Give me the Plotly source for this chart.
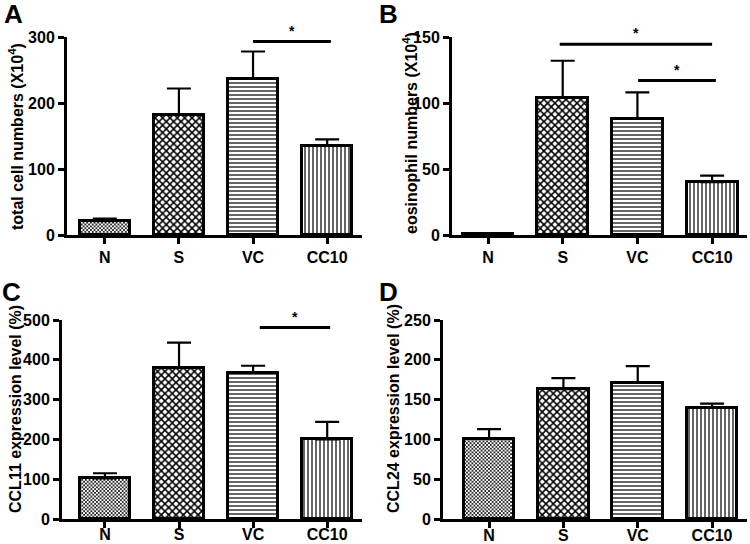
import plotly.graph_objects as go

# ---------------- data ----------------
categories = ["N", "S", "VC", "CC10"]

a_mean = [21, 182, 237, 135]
a_sem = [4, 40, 41, 10]

b_mean = [1, 104, 88, 40]
b_sem = [0, 28, 20, 5]

c_mean = [102, 380, 368, 200]
c_sem = [13, 63, 17, 44]

d_mean = [101, 163, 171, 140]
d_sem = [12, 14, 21, 5]

a_ticks = [0, 100, 200, 300]
b_ticks = [0, 50, 100, 150]
c_ticks = [0, 100, 200, 300, 400, 500]
d_ticks = [0, 50, 100, 150, 200, 250]

# significance brackets: (x start, x end, y level) in data units
a_sig = [(2.0, 3.05, 293)]
b_sig = [(0.96, 3.0, 144.5), (2.01, 3.05, 117)]
c_sig = [(2.09, 3.04, 481)]
d_sig = []

panel_letters = ["A", "B", "C", "D"]
y_titles = ["total cell numbers (X10<sup>4</sup>)",
            "eosinophil numbers (X10<sup>4</sup>)",
            "CCL11 expression level (%)",
            "CCL24 expression level (%)"]

# ---------------- layout geometry (pixels) ----------------
W, H = 750, 544
FONT = "Liberation Sans, Arial, sans-serif"

def px_x(p):
    return p / W

def px_y(p):
    return 1 - p / H

# (left px, right px, top px, bottom px, x range left, x range right, label standoff)
panels = [
    (67, 362, 37, 235, -0.51, 3.47, 0),
    (452, 747, 37, 235, -0.482, 3.467, 0),
    (62, 362, 320, 519, -0.58, 3.47, -7),
    (443, 747, 320, 519, -0.62, 3.47, -6),
]
means = [a_mean, b_mean, c_mean, d_mean]
sems = [a_sem, b_sem, c_sem, d_sem]
ticks = [a_ticks, b_ticks, c_ticks, d_ticks]
sigs = [a_sig, b_sig, c_sig, d_sig]
letter_pos = [(2, 14), (377, 14), (0, 292), (377, 292)]
title_pos = [(16, 137), (410, 133), (15, 409), (393, 409)]

pattern_shapes = ["x", "x", "-", "|"]
pattern_sizes = [2.6, 5.2, 4, 4]
pattern_solid = [0.5, 0.5, 0.3, 0.3]

fig = go.Figure()
layout = dict(
    width=W, height=H,
    margin=dict(l=0, r=0, t=0, b=0, pad=0),
    autosize=False,
    paper_bgcolor="white", plot_bgcolor="white",
    showlegend=False,
    font=dict(family=FONT, color="black", size=16, weight="bold"),
    shapes=[], annotations=[],
    bargap=0,
)

for i in range(4):
    left, right, top, bottom, xr0, xr1, stand = panels[i]
    sfx = "" if i == 0 else str(i + 1)
    xa, ya = "x" + sfx, "y" + sfx
    fig.add_trace(go.Bar(
        x=list(range(len(categories))),
        y=means[i],
        width=0.68,
        xaxis=xa, yaxis=ya,
        marker=dict(
            color="white",
            line=dict(color="black", width=3),
            pattern=dict(shape=pattern_shapes, size=pattern_sizes,
                         solidity=pattern_solid, fgcolor="black",
                         bgcolor="white", fillmode="replace"),
        ),
        error_y=dict(type="data", symmetric=False, array=sems[i],
                     arrayminus=[0] * len(categories),
                     color="black", thickness=2.2, width=12),
        hoverinfo="skip",
    ))
    layout["xaxis" + sfx] = dict(
        domain=[px_x(left), px_x(right)], anchor=ya,
        range=[xr0, xr1], automargin=False,
        showline=True, linecolor="black", linewidth=3,
        ticks="outside", ticklen=6, tickwidth=3, tickcolor="black",
        tickvals=list(range(len(categories))), ticktext=categories,
        tickfont=dict(family=FONT, size=16, color="black", weight="bold"),
        ticklabelstandoff=stand,
        showgrid=False, zeroline=False, fixedrange=True,
    )
    layout["yaxis" + sfx] = dict(
        domain=[px_y(bottom), px_y(top)], anchor=xa,
        range=[0, ticks[i][-1]], automargin=False,
        tickvals=ticks[i],
        showline=True, linecolor="black", linewidth=3,
        ticks="outside", ticklen=6, tickwidth=3, tickcolor="black",
        tickfont=dict(family=FONT, size=16, color="black", weight="bold"),
        showgrid=False, zeroline=False, fixedrange=True,
    )
    for (x0, x1, yv) in sigs[i]:
        layout["shapes"].append(dict(
            type="line", xref=xa, yref=ya, x0=x0, x1=x1, y0=yv, y1=yv,
            line=dict(color="black", width=3)))
        layout["annotations"].append(dict(
            xref=xa, yref=ya, x=(x0 + x1) / 2, y=yv, text="*",
            showarrow=False, yanchor="bottom", xanchor="center", yshift=1,
            font=dict(family=FONT, size=14, color="black", weight="bold")))
    lx, ly = letter_pos[i]
    layout["annotations"].append(dict(
        xref="paper", yref="paper", x=px_x(lx), y=px_y(ly),
        text=panel_letters[i], showarrow=False,
        xanchor="left", yanchor="middle",
        font=dict(family=FONT, size=26, color="black", weight="bold")))
    tx, ty = title_pos[i]
    layout["annotations"].append(dict(
        xref="paper", yref="paper", x=px_x(tx), y=px_y(ty),
        text=y_titles[i], showarrow=False, textangle=-90,
        xanchor="center", yanchor="middle",
        font=dict(family=FONT, size=16, color="black", weight="bold")))

fig.update_layout(**layout)
fig.write_html(
    "out.html",
    config={"displayModeBar": False},
    post_script="document.body.style.margin='0';document.body.style.overflow='hidden';",
)
